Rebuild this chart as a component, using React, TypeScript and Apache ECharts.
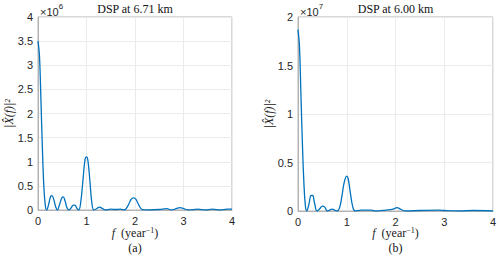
import React, { useEffect, useRef } from "react";
import * as echarts from "echarts";

// Panel (a): DSP at 6.71 km, values ×1e6
const fA = [0, 0.03, 0.06, 0.09, 0.12, 0.15, 0.18, 0.22, 0.26, 0.29, 0.33, 0.37, 0.40, 0.44, 0.49, 0.52, 0.56, 0.60, 0.64, 0.68, 0.73, 0.76, 0.80, 0.84, 0.88, 0.93, 0.97, 1.0, 1.03, 1.07, 1.11, 1.15, 1.2, 1.27, 1.33, 1.4, 1.5, 1.6, 1.7, 1.78, 1.85, 1.92, 1.97, 2.02, 2.08, 2.15, 2.3, 2.5, 2.65, 2.75, 2.85, 2.93, 3.0, 3.1, 3.3, 3.45, 3.6, 3.75, 3.9, 4.0];
const pA = [3.5, 3.2, 2.3, 1.3, 0.5, 0.1, 0.0, 0.12, 0.28, 0.3, 0.2, 0.05, 0.0, 0.1, 0.25, 0.27, 0.18, 0.04, 0.0, 0.04, 0.1, 0.1, 0.04, 0.0, 0.15, 0.65, 1.05, 1.1, 1.02, 0.6, 0.15, 0.0, 0.02, 0.06, 0.03, 0.0, 0.02, 0.01, 0.02, 0.0, 0.08, 0.22, 0.25, 0.22, 0.1, 0.01, 0.0, 0.01, 0.03, 0.0, 0.03, 0.05, 0.03, 0.0, 0.02, 0.0, 0.02, 0.0, 0.02, 0.02];

// Panel (b): DSP at 6.00 km, values ×1e7
const fB = [0, 0.03, 0.06, 0.09, 0.12, 0.15, 0.18, 0.22, 0.27, 0.3, 0.34, 0.39, 0.44, 0.5, 0.55, 0.6, 0.65, 0.7, 0.75, 0.8, 0.85, 0.9, 0.95, 1.0, 1.03, 1.07, 1.12, 1.17, 1.3, 1.5, 1.6, 1.8, 1.95, 2.03, 2.1, 2.2, 2.5, 2.9, 3.0, 3.3, 3.6, 4.0];
const pB = [1.87, 1.7, 1.2, 0.7, 0.3, 0.06, 0.0, 0.06, 0.16, 0.16, 0.08, 0.0, 0.02, 0.05, 0.04, 0.0, 0.01, 0.02, 0.01, 0.0, 0.03, 0.15, 0.3, 0.36, 0.33, 0.2, 0.05, 0.0, 0.01, 0.01, 0.0, 0.01, 0.02, 0.035, 0.02, 0.0, 0.005, 0.01, 0.005, 0.0, 0.005, 0.0];

const titles = ["DSP at 6.71 km", "DSP at 6.00 km"];
const captions = ["(a)", "(b)"];
const exponents = ["6", "7"];
const yMax = [4, 2];

export default function App() {
  const ref = useRef<HTMLDivElement>(null);
  useEffect(() => {
    document.body.style.margin = "0";
    const chart = echarts.init(ref.current!, null, { renderer: "svg" });
    const grids = [
      { left: 38, top: 17, width: 194, height: 193 },
      { left: 298, top: 17, width: 195, height: 194 },
    ];
    const sans = "Liberation Sans";
    const serif = "Liberation Serif";
    const boxColor = "#b3b3b3";
    const mainAxis = {
      axisLine: { show: true, lineStyle: { color: boxColor, width: 1 } },
      axisTick: { show: false },
      splitLine: { show: true, lineStyle: { color: "#ebebeb", width: 1 } },
      axisLabel: { color: "#262626", fontFamily: sans, fontSize: 11, margin: 5 },
    };
    const graphics: any[] = [];
    grids.forEach((g, i) => {
      const cx = g.left + g.width / 2;
      graphics.push({
        type: "text", x: cx, y: 3,
        style: { text: titles[i], fontFamily: serif, fontSize: 12, fill: "#111", align: "center" },
      });
      graphics.push({
        type: "text", x: g.left + 2, y: 2,
        style: {
          text: "{a|×10}{s|" + exponents[i] + "}",
          rich: {
            a: { fontFamily: sans, fontSize: 11, fill: "#262626", padding: [4, 0, 0, 0] },
            s: { fontFamily: sans, fontSize: 8, fill: "#262626", verticalAlign: "top" },
          },
        },
      });
      graphics.push({
        type: "text", x: cx, y: 226,
        style: {
          text: "{i|f}{n|  (year}{s|−1}{n|)}",
          align: "center",
          rich: {
            i: { fontFamily: serif, fontStyle: "italic", fontSize: 12, fill: "#222" },
            n: { fontFamily: serif, fontSize: 12, fill: "#222" },
            s: { fontFamily: serif, fontSize: 8, fill: "#222", verticalAlign: "top", padding: [0, 0, 6, 0] },
          },
        },
      });
      graphics.push({
        type: "text", x: cx, y: 242,
        style: { text: captions[i], fontFamily: serif, fontSize: 12, fill: "#111", align: "center" },
      });
      graphics.push({
        type: "text", x: g.left - 35, y: g.top + g.height / 2, rotation: Math.PI / 2,
        style: {
          text: "|X̂(f)|²",
          fontFamily: serif, fontStyle: "italic", fontSize: 12, fill: "#222",
          align: "center", verticalAlign: "top",
        },
      });
    });
    chart.setOption({
      animation: false,
      grid: grids.map((g) => ({ ...g, show: true, borderColor: boxColor, borderWidth: 1, backgroundColor: "#fff" })),
      xAxis: grids.map((_, i) => ({ type: "value", gridIndex: i, position: "bottom", min: 0, max: 4, interval: 1, ...mainAxis })),
      yAxis: grids.map((_, i) => ({ type: "value", gridIndex: i, position: "left", min: 0, max: yMax[i], interval: 0.5, ...mainAxis })),
      series: [
        {
          type: "line", xAxisIndex: 0, yAxisIndex: 0, showSymbol: false, smooth: 0.4,
          data: fA.map((f, k) => [f, pA[k]]),
          lineStyle: { color: "#0072BD", width: 1.3 },
        },
        {
          type: "line", xAxisIndex: 1, yAxisIndex: 1, showSymbol: false, smooth: 0.4,
          data: fB.map((f, k) => [f, pB[k]]),
          lineStyle: { color: "#0072BD", width: 1.3 },
        },
      ],
      graphic: graphics,
    });
    return () => chart.dispose();
  }, []);
  return <div ref={ref} style={{ width: 500, height: 260 }} />;
}
